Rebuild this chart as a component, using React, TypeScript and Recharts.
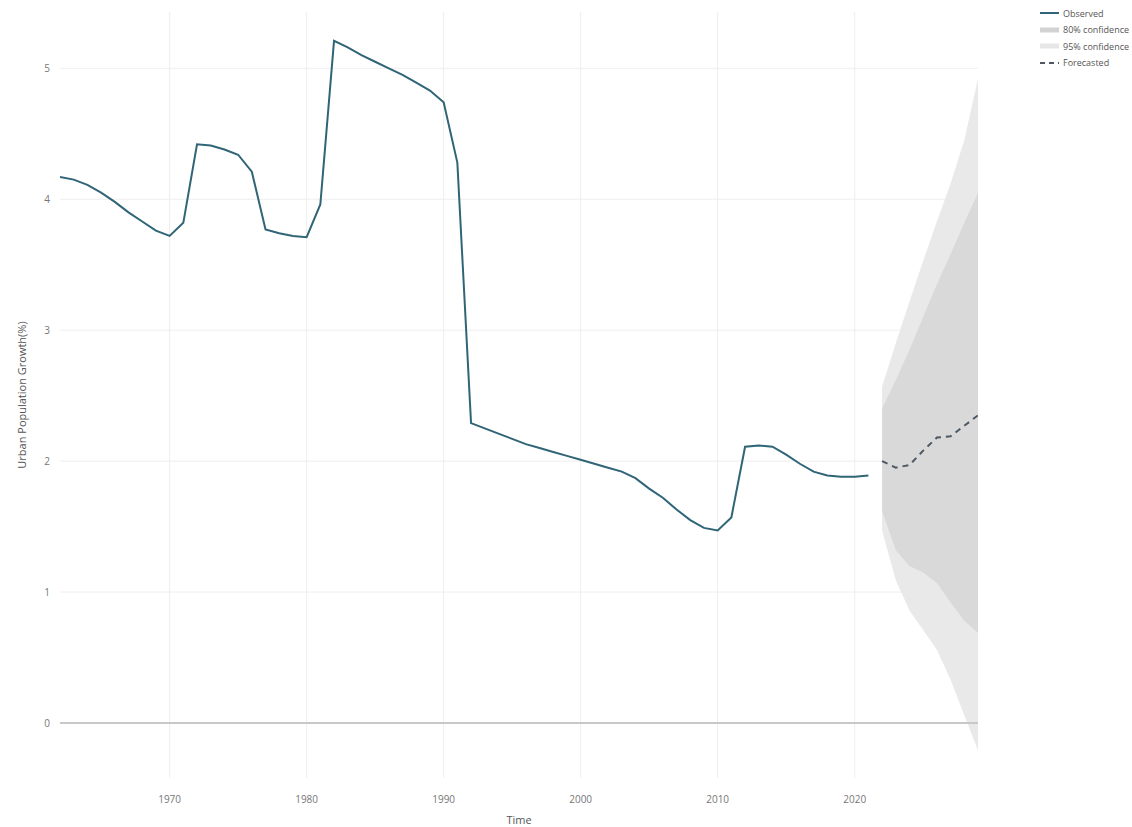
import {
  Area,
  CartesianGrid,
  ComposedChart,
  Label,
  Line,
  ReferenceLine,
  XAxis,
  YAxis,
} from "recharts";

// Urban population growth (%) — observed series and ARIMA-style forecast
const firstObservedYear = 1962;
const observed = [
  4.17, 4.15, 4.11, 4.05, 3.98, 3.9, 3.83, 3.76, 3.72, 3.82,
  4.42, 4.41, 4.38, 4.34, 4.21, 3.77, 3.74, 3.72, 3.71, 3.96,
  5.21, 5.16, 5.1, 5.05, 5.0, 4.95, 4.89, 4.83, 4.74, 4.28,
  2.29, 2.25, 2.21, 2.17, 2.13, 2.1, 2.07, 2.04, 2.01, 1.98,
  1.95, 1.92, 1.87, 1.79, 1.72, 1.63, 1.55, 1.49, 1.47, 1.57,
  2.11, 2.12, 2.11, 2.05, 1.98, 1.92, 1.89, 1.88, 1.88, 1.89,
];

const forecastYears = [2022, 2023, 2024, 2025, 2026, 2027, 2028, 2029];
const forecast = [2.0, 1.95, 1.97, 2.08, 2.18, 2.19, 2.27, 2.35];
const lower80 = [1.62, 1.32, 1.2, 1.15, 1.07, 0.92, 0.78, 0.69];
const upper80 = [2.4, 2.62, 2.85, 3.1, 3.35, 3.58, 3.82, 4.05];
const lower95 = [1.47, 1.09, 0.86, 0.71, 0.56, 0.33, 0.06, -0.21];
const upper95 = [2.57, 2.9, 3.22, 3.53, 3.83, 4.12, 4.45, 4.92];

const xTicks = [1970, 1980, 1990, 2000, 2010, 2020];
const yTicks = [0, 1, 2, 3, 4, 5];

const OBSERVED_COLOR = "#2f6577";
const FORECAST_COLOR = "#4d5863";
const BAND80 = "#d9d9d9";
const BAND95 = "#e9e9e9";
const FONT = "'Open Sans', 'DejaVu Sans', sans-serif";

type Row = {
  year: number;
  observed?: number;
  forecast?: number;
  band80?: [number, number];
  band95?: [number, number];
};

const rows: Row[] = [
  ...observed.map((v, i) => ({ year: firstObservedYear + i, observed: v })),
  ...forecastYears.map((year, i) => ({
    year,
    forecast: forecast[i],
    band80: [lower80[i], upper80[i]] as [number, number],
    band95: [lower95[i], upper95[i]] as [number, number],
  })),
];

const legendItems = [
  { label: "Observed", color: OBSERVED_COLOR, width: 2, dash: undefined },
  { label: "80% confidence", color: "#d2d2d2", width: 5, dash: undefined },
  { label: "95% confidence", color: "#e6e6e6", width: 5, dash: undefined },
  { label: "Forecasted", color: FORECAST_COLOR, width: 2, dash: "5 4" },
];

function ChartLegend() {
  return (
    <div
      style={{
        position: "absolute",
        left: 1040,
        top: 5,
        fontFamily: FONT,
        fontSize: 9,
        color: "#555",
        whiteSpace: "nowrap",
      }}
    >
      {legendItems.map((item) => (
        <div key={item.label} style={{ display: "flex", alignItems: "center", height: 16.5 }}>
          <svg width={20} height={10} style={{ marginRight: 3, flex: "none" }}>
            <line
              x1={0}
              y1={5}
              x2={19}
              y2={5}
              stroke={item.color}
              strokeWidth={item.width}
              strokeDasharray={item.dash}
            />
          </svg>
          <span>{item.label}</span>
        </div>
      ))}
    </div>
  );
}

export default function App() {
  return (
    <div style={{ position: "absolute", left: 0, top: 0, width: 1132, height: 827, background: "#fff" }}>
      <ComposedChart
        width={1132}
        height={827}
        data={rows}
        margin={{ top: 12, right: 154, bottom: 0, left: 0 }}
      >
        <CartesianGrid stroke="#eeeeee" strokeWidth={1} horizontalValues={[1, 2, 3, 4, 5]} verticalValues={xTicks} />
        <XAxis
          dataKey="year"
          type="number"
          domain={[1962, 2029]}
          ticks={xTicks}
          allowDataOverflow
          height={49}
          axisLine={false}
          tickLine={false}
          tickSize={6}
          tickMargin={12}
          tick={{ fontSize: 10, fill: "#777", fontFamily: FONT }}
        >
          <Label
            content={({ viewBox }: any) => (
              <text
                x={viewBox.x + viewBox.width / 2}
                y={824}
                textAnchor="middle"
                fontFamily={FONT}
                fontSize={11}
                fill="#555"
              >
                Time
              </text>
            )}
          />
        </XAxis>
        <YAxis
          type="number"
          domain={[-0.42, 5.43]}
          ticks={yTicks}
          allowDataOverflow
          width={60}
          axisLine={false}
          tickLine={false}
          tickSize={4}
          tickMargin={6}
          tick={{ fontSize: 10, fill: "#777", fontFamily: FONT }}
        >
          <Label
            content={({ viewBox }: any) => {
              const cx = 21;
              const cy = viewBox.y + viewBox.height / 2;
              return (
                <text
                  x={cx}
                  y={cy}
                  transform={`rotate(-90 ${cx} ${cy})`}
                  textAnchor="middle"
                  dominantBaseline="central"
                  fontFamily={FONT}
                  fontSize={11}
                  fill="#555"
                >
                  Urban Population Growth(%)
                </text>
              );
            }}
          />
        </YAxis>
        <Area
          dataKey="band95"
          type="linear"
          stroke="none"
          fill={BAND95}
          fillOpacity={1}
          isAnimationActive={false}
        />
        <Area
          dataKey="band80"
          type="linear"
          stroke="none"
          fill={BAND80}
          fillOpacity={1}
          isAnimationActive={false}
        />
        <ReferenceLine y={0} stroke="#c8c8c8" strokeWidth={2} />
        <Line
          dataKey="observed"
          type="linear"
          stroke={OBSERVED_COLOR}
          strokeWidth={2}
          dot={false}
          isAnimationActive={false}
        />
        <Line
          dataKey="forecast"
          type="linear"
          stroke={FORECAST_COLOR}
          strokeWidth={2}
          strokeDasharray="6 5"
          dot={false}
          isAnimationActive={false}
        />
      </ComposedChart>
      <ChartLegend />
    </div>
  );
}
